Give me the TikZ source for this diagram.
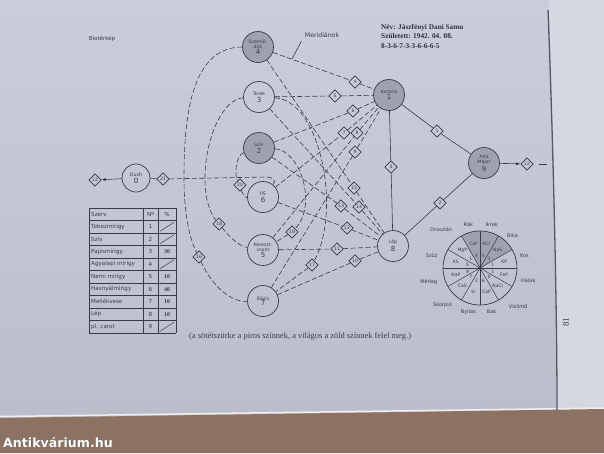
\documentclass[tikz,border=0pt]{standalone}
\usepackage{fontspec}
\setmainfont{Liberation Serif}
\setsansfont{DejaVu Sans}
\usetikzlibrary{shapes.geometric,arrows.meta}
\definecolor{pagetop}{HTML}{CBCDDA}
\definecolor{pagebot}{HTML}{BBBDCB}
\definecolor{pg}{HTML}{C6C8D5}
\definecolor{ink}{HTML}{3A3B49}
\definecolor{gnode}{HTML}{9FA1B0}
\definecolor{desk}{HTML}{8B7262}
\newcommand\chaklab[2]{#1\\[0.5pt]{\fontsize{7}{7}\selectfont #2}}
\tikzset{
 chak/.style={circle, draw=ink, line width=0.7pt, minimum size=31pt, inner sep=0pt, align=center, text=ink, font=\sffamily\fontsize{4.7}{5.2}\selectfont},
 dchak/.style={chak, fill=gnode},
 dia/.style={diamond, draw=ink, line width=0.6pt, minimum width=12.5pt, minimum height=12.5pt, inner sep=0pt, text=ink, font=\sffamily\fontsize{4.6}{5}\selectfont},
 mer/.style={draw=ink, line width=0.6pt, dash pattern=on 5pt off 2.5pt},
 sol/.style={draw=ink, line width=0.6pt},
 cell/.style={font=\sffamily\fontsize{5.6}{6}\selectfont, text=ink, inner sep=0pt},
 tnum/.style={font=\bfseries\fontsize{5.8}{6}\selectfont, text=ink, inner sep=0pt},
 salt/.style={font=\sffamily\fontsize{4.5}{5}\selectfont, text=ink, inner sep=0pt},
 zod/.style={font=\sffamily\fontsize{5}{5}\selectfont, text=ink, inner sep=0pt},
 dig/.style={font=\sffamily\fontsize{4.5}{5}\selectfont, text=ink, inner sep=0pt},
 hdr/.style={font=\bfseries\fontsize{7.3}{8}\selectfont, text=ink!80!black, anchor=base west, inner sep=0pt},
}
\begin{document}
\begin{tikzpicture}[x=1pt,y=-1pt]
\useasboundingbox (0,0) rectangle (604,453);
% photo background
\shade[top color=pagetop, bottom color=pagebot] (0,0) rectangle (604,418);
\fill[pagetop!80!white] (549,0) .. controls (553,140) and (557,300) .. (557,410) -- (604,409) -- (604,0) -- cycle;
\fill[desk] (0,418) -- (604,409) -- (604,453) -- (0,453) -- cycle;
\draw[white!70!pg, line width=1.5pt] (0,416.5) -- (604,408);
\draw[ink!85, line width=1.3pt] (548,10) .. controls (553,140) and (557,300) .. (557,410);

% chakra nodes
\node[dchak] (sz) at (258,47) {\chaklab{Szemöl-\\dök}{4}};
\node[chak] (tor) at (259,97) {\chaklab{Torok}{3}};
\node[dchak] (sziv) at (259,148) {\chaklab{Szív}{2}};
\node[chak] (ps) at (263,197) {\chaklab{PS}{6}};
\node[chak] (ker) at (263,250) {\chaklab{Kereszt-\\csont}{5}};
\node[chak] (bz) at (263,301) {\chaklab{Bázis}{7}};
\node[dchak] (kor) at (389,95) {\chaklab{Korona}{1}};
\node[chak] (lep) at (393,246) {\chaklab{Lép}{8}};
\node[dchak] (am) at (484,163) {\chaklab{Alta\\Major}{9}};
\node[chak, minimum size=28pt] (dush) at (136,178) {\chaklab{Dush}{0}};

% diamonds
\node[dia] (d1) at (437,131) {1};
\node[dia] (d2) at (440,203) {2};
\node[dia] (d3) at (391,167) {3};
\node[dia] (d4) at (355,82) {4};
\node[dia] (d5) at (335,96) {5};
\node[dia] (d6) at (353,111) {6};
\node[dia] (d7) at (344,133) {7};
\node[dia] (d8) at (357,133) {8};
\node[dia] (d9) at (355,152) {9};
\node[dia] (d10) at (355,261) {10};
\node[dia] (d11) at (337,249) {11};
\node[dia] (d12) at (347,228) {12};
\node[dia] (d13) at (341,206) {13};
\node[dia] (d14) at (359,207) {14};
\node[dia] (d15) at (354,188) {15};
\node[dia] (d16) at (199,257) {16};
\node[dia] (d17) at (312,265) {17};
\node[dia] (d18) at (219,224) {18};
\node[dia] (d19) at (292,232) {19};
\node[dia] (d20) at (240,185) {20};
\node[dia] (d21) at (163,179) {21};
\node[dia] (d22a) at (95,180) {22};
\node[dia] (d22b) at (527,164) {22};

% meridians
\draw[mer] (sz) -- (d4) -- (kor);
\draw[mer] (tor) -- (d5) -- (kor);
\draw[mer] (sziv) -- (d6) -- (kor);
\draw[mer] (ps) -- (d7) -- (kor);
\draw[mer] (ker) -- (d8) -- (kor);
\draw[mer] (bz) -- (d9) -- (kor);
\draw[sol] (kor) -- (d3) -- (lep);
\draw[sol] (kor) -- (d1) -- (am);
\draw[sol] (lep) -- (d2) -- (am);
\draw[mer] (bz) -- (d10) -- (lep);
\draw[mer] (ker) -- (d11) -- (lep);
\draw[mer] (ps) -- (d12) -- (lep);
\draw[mer] (sziv) -- (d13) -- (lep);
\draw[mer] (tor) -- (d14) -- (lep);
\draw[mer] (sz) -- (d15) -- (lep);
\draw[mer] (sz) .. controls (190,47) and (184,120) .. (184,178) .. controls (184,215) and (190,240) .. (d16) .. controls (210,282) and (228,302) .. (bz);
\draw[mer] (tor) .. controls (222,99) and (205,140) .. (205,178) .. controls (205,200) and (210,213) .. (d18) .. controls (229,236) and (238,246) .. (ker);
\draw[mer] (sziv) .. controls (236,155) and (234,174) .. (d20) .. controls (242,193) and (246,198) .. (ps);
\draw[mer] (tor) .. controls (320,100) and (342,210) .. (d17) -- (bz);
\draw[mer] (sziv) .. controls (300,150) and (318,205) .. (d19) -- (ker);
\draw[sol] (dush) -- (d21);
\draw[mer] (d21) -- (266,177) .. controls (272,177) and (277,180) .. (ps);
\draw[sol,-{Latex[length=4.5pt,width=3pt]}] (dush) -- (d22a);
\draw[sol,-{Latex[length=4.5pt,width=3pt]}] (am) -- (d22b);
\coordinate (e0) at (539,164);
\coordinate (e1) at (547,164);
\draw[sol] (e0) -- (e1);

% labels
\node[font=\sffamily\fontsize{6.2}{7}\selectfont, text=ink] (mlab) at (322,35) {Meridiánok};
\coordinate (mp) at (292,59);
\draw[sol] (mlab.south west) -- (mp);
\node[font=\sffamily\fontsize{5.5}{6}\selectfont, text=ink] (title) at (102,39) {Biotérkép};
\node[hdr] (h1) at (381,29) {Név: Jászfényi Dani Samu};
\node[hdr] (h2) at (381,38.5) {Született: 1942. 04. 08.};
\node[hdr] (h3) at (381,48) {8-3-6-7-3-3-6-6-6-5};
\node[font=\fontsize{8.4}{9}\selectfont, text=ink, anchor=base west, inner sep=0pt] (cap) at (189,338) {(a sötétszürke a piros színnek, a világos a zöld színnek felel meg.)};
\node[font=\fontsize{9}{9}\selectfont, text=ink, rotate=90, inner sep=0pt] (pnum) at (566,322) {81};

% table
\foreach \i in {0,...,10} \draw[ink, line width=0.7pt] (89,208+12.5*\i) -- (176,208+12.5*\i);
\foreach \x in {89,143,158,176} \draw[ink, line width=0.7pt] (\x,208) -- (\x,333);
\foreach \t [count=\k from 0] in {Szerv,Tobozmirigy,Szív,Pajzsmirigy,Agyalapi mirigy,Nemi mirigy,Hasnyálmirigy,Mellékvese,Lép,pl. carot}
  \node[cell, anchor=west] at (91,214.25+12.5*\k) {\t};
\node[cell] at (150.5,214.25) {Nº};
\node[cell] at (167,214.25) {\%};
\foreach \k in {1,...,9} \node[cell] at (150.5,214.25+12.5*\k) {\k};
\foreach \k/\v in {3/30,5/10,6/40,7/10,8/10} \node[tnum] at (167,214.25+12.5*\k) {\v};
\foreach \k in {1,2,4,9} \draw[ink, line width=0.5pt] (160,218.7+12.5*\k) -- (174,209.8+12.5*\k);

% zodiac wheel
\begin{scope}[shift={(480,268)}]
  \begin{scope}
    \clip (0,0) -- (-30:60) -- (-60:60) -- (-90:60) -- (-120:60) -- cycle;
    \fill[gnode] (0,0) circle[radius=37];
  \end{scope}
  \draw[ink, line width=0.7pt] (0,0) circle[radius=37];
  \foreach \a in {0,30,...,330} \draw[ink, line width=0.5pt] (0,0) -- (-\a:37);
  \fill[ink] (0,0) circle[radius=1.6];
  \foreach \a/\s/\n in {15/KP/1,45/NaS/1,75/KCl/5,105/CaF/4,135/MgP/1,165/KS/5,195/NaP/9,225/CaS/7,255/Si/2,285/CaP/6,315/NaCl/8,345/FeP/3}
  { \node[salt] at (-\a:25) {\s}; \node[dig] at (-\a:13) {\n}; }
  \foreach \a/\z/\r in {15/Kos/46,45/Bika/46,75/Ikrek/45,105/Rák/45,135/Oroszlán/55,165/Szűz/50,195/Mérleg/53,225/Skorpió/53,255/Nyilas/46,285/Bak/45,315/Vízöntő/54,345/Halak/50}
  { \node[zod] at (-\a:\r) {\z}; }
\end{scope}

% watermark
\node[anchor=base west, text=black!60, font=\sffamily\bfseries\fontsize{12.6}{13}\selectfont, inner sep=0pt] (wm0) at (3.6,447.6) {Antikvárium.hu};
\node[anchor=base west, text=white, font=\sffamily\bfseries\fontsize{12.6}{13}\selectfont, inner sep=0pt] (wm) at (3,447) {Antikvárium.hu};
\end{tikzpicture}
\end{document}
